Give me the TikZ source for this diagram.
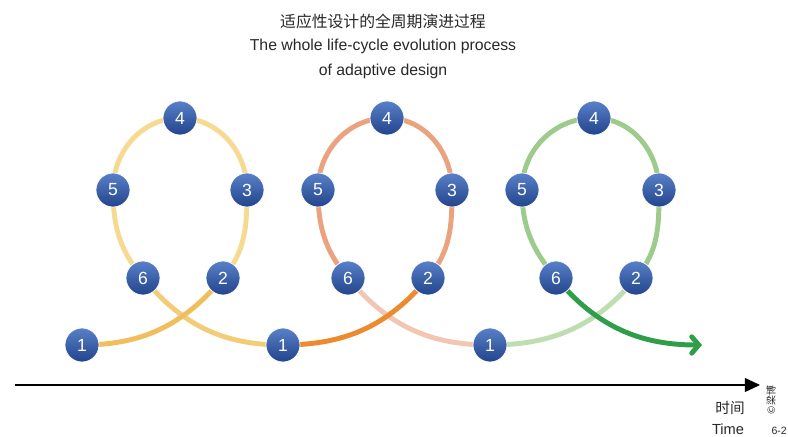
\documentclass[tikz,border=0pt]{standalone}
\usepackage{fontspec}
\setmainfont{Liberation Sans}
\newfontfamily\cjk{Noto Sans CJK SC}
\usetikzlibrary{arrows.meta,backgrounds}
\definecolor{balltop}{RGB}{88,128,200}
\definecolor{ballbot}{RGB}{34,68,140}
\definecolor{textgray}{RGB}{40,40,40}
\definecolor{yelA}{RGB}{241,190,95}
\definecolor{yelB}{RGB}{246,218,145}
\definecolor{yelC}{RGB}{243,204,120}
\definecolor{orgA}{RGB}{238,138,46}
\definecolor{orgB}{RGB}{235,162,126}
\definecolor{orgC}{RGB}{243,198,180}
\definecolor{grnA}{RGB}{190,221,176}
\definecolor{grnB}{RGB}{157,203,140}
\definecolor{grnC}{RGB}{46,158,72}

\begin{document}
\begin{tikzpicture}[x=0.03cm,y=0.03cm]
	\tikzstyle{every node}+=[inner sep=0pt]
	\tikzstyle{ball}=[circle, minimum size=29pt, top color=balltop, bottom color=ballbot, draw=white, line width=0.6pt, text=white, font=\fontsize{15}{15}\selectfont]
	\tikzstyle{loopline}=[line width=4.2pt, line cap=round]
	\useasboundingbox (0,0) rectangle (788,436);
	% title
	\node [text=textgray, font=\cjk\fontsize{13.5}{15}\selectfont] (titlecn) at (383,415) {适应性设计的全周期演进过程};
	\node [text=textgray, font=\fontsize{13.5}{15}\selectfont] (titleen) at (383,390) {The whole life-cycle evolution process};
	\node [text=textgray, font=\fontsize{13.5}{15}\selectfont] (titleen2) at (383,365) {of adaptive design};
	% first loop
	\node [ball] (a1) at (82,91) {1};
	\node [ball] (a2) at (223,158) {2};
	\node [ball] (a3) at (247,246) {3};
	\node [ball] (a4) at (180,318) {4};
	\node [ball] (a5) at (113,246) {5};
	\node [ball] (a6) at (143,158) {6};
	% second loop
	\node [ball] (b1) at (283,91) {1};
	\node [ball] (b2) at (428,158) {2};
	\node [ball] (b3) at (452,246) {3};
	\node [ball] (b4) at (387,318) {4};
	\node [ball] (b5) at (318,246) {5};
	\node [ball] (b6) at (348,158) {6};
	% third loop
	\node [ball] (c1) at (490,91) {1};
	\node [ball] (c2) at (636,158) {2};
	\node [ball] (c3) at (659,246) {3};
	\node [ball] (c4) at (594,318) {4};
	\node [ball] (c5) at (522,246) {5};
	\node [ball] (c6) at (556,158) {6};
	\coordinate (cend) at (702,91);
	\begin{scope}[on background layer]
		\draw [loopline, yelB] (a2.center) to[out=50,in=270] (a3.center) to[out=90,in=0] (a4.center) to[out=180,in=90] (a5.center) to[out=270,in=130] (a6.center);
		\draw [loopline, yelC] (a6.center) to[out=310,in=180] (b1.center);
		\draw [loopline, yelA] (a1.center) to[out=0,in=230] (a2.center);
		\draw [loopline, orgB] (b2.center) to[out=50,in=270] (b3.center) to[out=90,in=0] (b4.center) to[out=180,in=90] (b5.center) to[out=270,in=130] (b6.center);
		\draw [loopline, orgC] (b6.center) to[out=310,in=180] (c1.center);
		\draw [loopline, orgA] (b1.center) to[out=0,in=230] (b2.center);
		\draw [loopline, grnB] (c2.center) to[out=50,in=270] (c3.center) to[out=90,in=0] (c4.center) to[out=180,in=90] (c5.center) to[out=270,in=130] (c6.center);
		\draw [loopline, grnA] (c1.center) to[out=0,in=230] (c2.center);
		\draw [loopline, grnC, -{Straight Barb[length=6pt,width=14pt,line cap=round]}] (c6.center) to[out=310,in=180] (cend);
	\end{scope}
	% time axis
	\coordinate (tstart) at (15,51);
	\coordinate (tend) at (760,51);
	\draw [line width=1pt, -{Triangle[length=13pt,width=12pt]}] (tstart) -- (tend);
	\node [text=textgray, font=\cjk\fontsize{12.5}{14}\selectfont] (timecn) at (730,28) {时间};
	\node [text=textgray, font=\fontsize{12.5}{14}\selectfont, anchor=south] (timeen) at (728,1) {Time};
	\node [text=textgray, rotate=90, font=\cjk\fontsize{8.5}{9}\selectfont] (copy) at (771,36) {©梁博};
	\node [text=textgray, font=\fontsize{9}{10}\selectfont, anchor=south east] (fignum) at (787,1) {6-2};
\end{tikzpicture}
\end{document}
